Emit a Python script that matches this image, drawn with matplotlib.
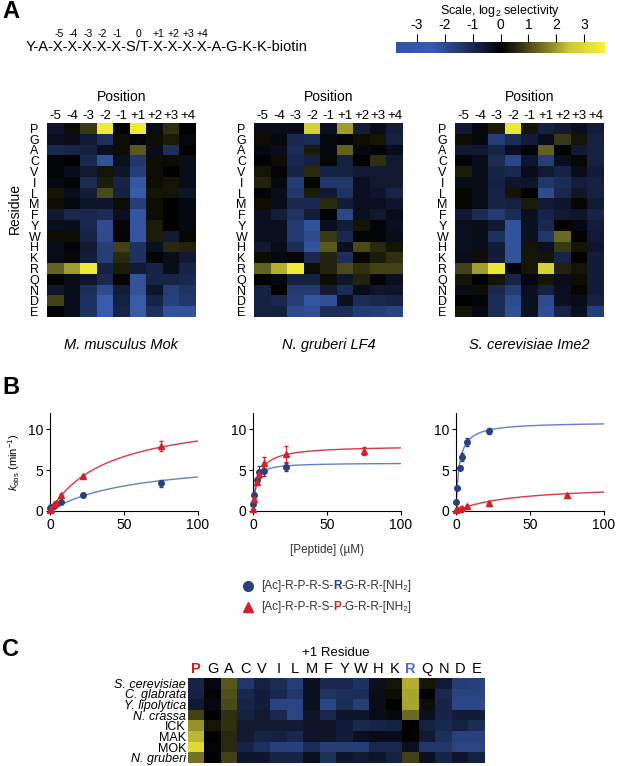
import numpy as np
import matplotlib
matplotlib.use("Agg")
import matplotlib.pyplot as plt
from matplotlib.colors import LinearSegmentedColormap
from matplotlib.cm import ScalarMappable
from matplotlib.colors import Normalize
from matplotlib.lines import Line2D

plt.rcParams['font.family'] = ['Liberation Sans', 'DejaVu Sans']
plt.rcParams['mathtext.fontset'] = 'custom'
plt.rcParams['mathtext.rm'] = 'Liberation Sans'
plt.rcParams['mathtext.it'] = 'Liberation Sans:italic'

# ---------------- data ----------------
residues = ["P", "G", "A", "C", "V", "I", "L", "M", "F", "Y", "W", "H", "K", "R", "Q", "N", "D", "E"]
positions = ["-5", "-4", "-3", "-2", "-1", "+1", "+2", "+3", "+4"]

mok = [
    [-0.5, 0.2, 0.8, 3.5, 0.0, 3.5, -0.3, 0.7, 0.0],
    [-0.4, -0.3, -0.6, -1.2, 0.2, -0.1, 0.2, 0.4, -0.2],
    [-1.0, -0.9, -0.8, -0.4, 0.2, 1.2, -0.3, -1.2, 0.0],
    [-0.1, 0.0, -1.0, -2.2, -0.4, -1.4, 0.2, 0.2, -0.3],
    [-0.1, -0.3, -0.6, 0.3, -0.5, -1.6, 0.2, 0.0, -0.3],
    [-0.2, -0.1, -1.1, 0.4, -0.9, -2.4, 0.2, 0.3, -0.3],
    [0.3, -0.3, -0.7, 1.0, -0.8, -2.5, 0.3, 0.3, -0.5],
    [0.2, -0.2, -0.5, -0.5, 0.2, -1.6, 0.2, 0.0, -0.2],
    [-0.6, -1.0, -1.0, -1.1, -0.4, -2.3, 0.2, 0.0, -0.2],
    [-0.4, -0.3, -1.0, -2.0, 0.1, -2.3, 0.4, 0.0, -0.2],
    [0.2, 0.2, -0.9, -2.0, -0.1, -2.3, 0.4, -0.6, 0.1],
    [-0.3, -0.1, -0.6, -1.6, 0.9, -1.3, -0.4, 0.6, 0.5],
    [-0.3, 0.1, -0.7, -1.6, 0.6, -1.3, -0.1, -0.3, -0.6],
    [1.3, 2.0, 3.5, -0.8, 0.4, -0.6, -0.9, -0.3, -0.9],
    [-0.1, -0.3, -0.5, -1.0, 0.1, -2.2, -0.9, -0.9, -1.0],
    [-0.5, -0.3, -1.2, -2.0, -0.7, -2.2, -0.5, -1.6, -1.3],
    [0.9, -0.3, -1.3, -2.5, -0.8, -2.6, -0.9, -1.7, -1.4],
    [0.0, -0.3, -1.3, -2.6, -0.9, -2.6, -1.2, -2.2, -2.2],
]

lf4 = [
    [-0.3, -0.3, -0.3, 2.8, -0.4, 2.0, -0.7, -0.3, -0.7],
    [0.2, -0.2, -1.0, -1.1, -0.2, -0.1, 0.2, 0.3, -0.8],
    [-0.2, -0.3, -1.1, 0.4, -0.2, 1.3, -0.2, -0.1, -0.3],
    [0.0, 0.2, -1.0, -0.8, 0.1, -0.8, 0.0, 0.7, -0.6],
    [0.3, -0.1, -0.9, 0.6, -0.8, -0.8, -0.6, -0.6, -0.6],
    [0.5, -0.2, -1.5, 0.1, -1.4, -1.4, -0.4, -0.6, -0.6],
    [-0.1, -0.3, -1.4, 0.4, -0.6, -1.3, -0.4, -0.5, -0.9],
    [0.2, -0.3, -1.0, -1.0, 0.6, -0.7, -0.4, -0.4, -0.5],
    [-0.4, -0.7, -1.3, -0.7, -0.1, -1.9, -0.4, -0.6, -0.3],
    [-0.4, -0.4, -1.5, -2.2, -0.4, -0.7, 0.3, -0.1, -0.4],
    [-0.4, -0.4, -1.5, -2.0, 0.8, -1.0, -0.1, -0.1, -0.3],
    [-0.6, -0.3, -1.1, -2.2, 1.2, -0.4, 1.0, 0.6, 0.3],
    [0.2, -0.2, 0.1, -1.0, 0.5, -1.2, 0.1, 0.4, 0.7],
    [1.3, 2.2, 3.5, 0.2, 0.5, 1.0, 0.7, 0.9, 0.9],
    [0.0, -0.2, -0.8, -0.8, 0.2, -0.5, 0.5, -0.1, -0.4],
    [-0.8, 0.0, -1.5, -1.5, -0.6, -1.1, -0.3, -0.5, -0.5],
    [-0.8, -1.0, -1.6, -2.3, -2.1, -0.4, -1.1, -1.0, -0.9],
    [-0.8, -0.8, -2.0, -2.1, -1.1, -1.1, -1.5, -1.6, -1.8],
]

ime2 = [
    [-0.6, -0.2, 0.4, 3.4, 0.3, -0.8, -0.6, -0.4, -0.7],
    [0.2, -0.2, -1.6, -1.1, -0.7, -0.3, 0.8, 0.3, -0.8],
    [-0.6, -0.6, -0.9, -0.4, -0.1, 1.3, 0.0, -0.6, -0.8],
    [-0.1, -0.3, -1.1, -1.9, -0.5, -1.6, -0.3, 0.1, -0.8],
    [0.4, -0.3, -0.9, -1.0, -0.3, -0.6, -0.9, -0.3, -0.7],
    [-0.3, -0.3, -0.8, -0.5, -0.5, -1.4, -1.1, -0.7, -0.8],
    [0.1, -0.3, -0.9, 0.3, 0.0, -2.0, -1.0, -0.5, -0.8],
    [0.1, -0.3, -0.9, -0.8, 0.4, -0.6, -0.5, 0.1, -0.6],
    [-0.6, -1.1, -1.5, -1.1, -0.4, -0.9, -0.6, -0.5, -0.9],
    [-0.4, -0.3, -0.6, -2.2, -0.4, -1.0, 0.0, -0.2, -0.7],
    [-0.4, -0.3, -1.3, -2.2, -0.4, -1.4, 1.4, 0.0, -0.6],
    [-0.4, -0.3, -0.7, -2.2, 0.3, -0.4, 0.8, 0.3, -0.5],
    [-0.3, 0.2, -0.7, -2.2, 0.3, 0.3, -0.9, 0.0, -0.7],
    [0.9, 2.0, 3.4, -0.1, 0.3, 2.8, 0.5, 0.3, -0.7],
    [0.3, 0.0, 0.3, -0.9, -0.2, 0.3, -0.3, 0.2, -0.7],
    [-0.3, 0.2, -1.0, -1.6, -0.4, -0.8, -0.4, 0.1, -0.7],
    [0.0, -0.1, -1.1, -2.0, -0.4, -2.0, -0.4, -0.3, -0.8],
    [0.3, -0.2, -1.1, -2.1, -0.4, -2.1, -0.9, -0.4, -1.6],
]

heat_titles = ["M. musculus Mok", "N. gruberi LF4", "S. cerevisiae Ime2"]

# Panel B
conc = [0.25, 0.75, 2.5, 3.75, 7.5, 22.5, 75]
mok_R = [0.4, 0.5, 0.6, 0.8, 1.1, 1.9, 3.4]
mok_P = [0.1, 0.3, 0.8, 1.0, 2.0, 4.3, 8.0]
mok_R_err = [0, 0, 0, 0, 0.1, 0.2, 0.4]
mok_P_err = [0, 0, 0, 0, 0.1, 0.1, 0.6]
lf4_R = [0.8, 2.0, 3.8, 4.8, 4.9, 5.4, np.nan]
lf4_P = [0.2, 1.5, 3.5, 4.5, 5.9, 7.0, 7.3]
lf4_R_err = [0, 0.2, 0.3, 0.7, 0.6, 0.5, 0]
lf4_P_err = [0, 0.2, 0.3, 0.4, 0.7, 1.0, 0.5]
ime2_R = [1.1, 2.8, 5.3, 6.6, 8.4, 9.8, np.nan]
ime2_P = [0.1, 0.2, 0.3, 0.35, 0.6, 1.0, 1.9]
ime2_R_err = [0, 0.1, 0.2, 0.5, 0.5, 0.4, 0]
ime2_P_err = [0, 0, 0, 0, 0.1, 0.1, 0.1]
# Michaelis-Menten fit parameters (Vmax, Km)
fit_R = [(6.5, 56.0), (5.9, 1.5), (10.9, 2.2)]
fit_P = [(12.0, 40.0), (8.0, 3.5), (3.2, 38.0)]

# Panel C
c_species = ["S. cerevisiae", "C. glabrata", "Y. lipolytica", "N. crassa", "ICK", "MAK", "MOK", "N. gruberi"]
c_italic = [True, True, True, True, False, False, False, True]
c_vals = [
    [-0.9, -0.2, 1.2, -1.4, -0.8, -1.1, -1.6, -0.4, -1.0, -1.0, -1.3, -0.4, 0.3, 2.2, 0.3, -0.6, -1.6, -1.7],
    [-0.8, -0.1, 1.1, -1.0, -0.7, -1.0, -1.4, -0.4, -1.3, -1.2, -1.1, -0.3, 0.2, 2.1, 0.0, -1.0, -1.8, -1.8],
    [-0.6, -0.2, 1.0, -0.9, -0.7, -1.8, -1.8, -0.4, -1.9, -1.1, -1.6, -0.3, 0.0, 2.1, 0.2, -0.9, -1.9, -1.9],
    [0.9, 0.0, 0.7, -0.8, -0.6, -1.0, -1.8, -0.5, -1.0, -0.5, -0.5, -0.3, -0.2, 1.4, -0.4, -0.9, -0.7, -0.7],
    [1.9, 0.3, 0.7, -0.6, -0.6, -0.6, -0.6, -0.5, -0.5, -0.7, -1.0, -0.9, -0.8, 0.0, -0.8, -1.0, -0.8, -1.1],
    [2.3, 0.0, 0.6, -0.6, -0.9, -0.8, -1.0, -0.5, -0.5, -0.7, -0.4, -0.3, -0.3, 0.0, -0.6, -1.2, -1.7, -1.7],
    [3.0, -0.1, 0.6, -0.9, -1.2, -1.7, -1.7, -1.1, -1.6, -1.6, -1.6, -1.0, -1.0, -0.4, -1.4, -1.4, -1.8, -1.8],
    [1.5, 0.0, 0.9, -0.5, -0.5, -0.9, -0.9, -0.4, -1.2, -0.5, -0.6, -0.5, -0.8, 0.9, -0.4, -0.9, -0.5, -0.8],
]

# ---------------- style ----------------
W, H = 617, 766
VMIN, VMAX = -3.75, 3.75
nodes = [(-3.75, (0.20, 0.33, 0.62)), (-2.5, (0.22, 0.36, 0.67)), (-1.5, (0.14, 0.23, 0.44)),
         (-0.6, (0.07, 0.10, 0.20)), (0.0, (0.0, 0.0, 0.0)), (0.6, (0.16, 0.16, 0.06)),
         (1.5, (0.45, 0.44, 0.14)), (2.5, (0.80, 0.78, 0.20)), (3.75, (0.97, 0.95, 0.22))]
cmap = LinearSegmentedColormap.from_list(
    "sel", [((v - VMIN) / (VMAX - VMIN), c) for v, c in nodes])
norm = Normalize(VMIN, VMAX)

BLUE_M = (0.16, 0.25, 0.50)
BLUE_L = (0.40, 0.50, 0.78)
RED_M = (0.85, 0.12, 0.15)
RED_L = (0.85, 0.22, 0.27)


def fx(x):
    return x / W


def fy(y):
    return 1 - y / H


def add_ax(x0, y0, x1, y1):
    return fig.add_axes([fx(x0), fy(y1), (x1 - x0) / W, (y1 - y0) / H])


fig = plt.figure(figsize=(W / 100, H / 100), dpi=100)
renderer = fig.canvas.get_renderer()


def seg_text(x, y, segs, fs, **kw):
    for s, col, wt in segs:
        t = fig.text(fx(x), fy(y), s, color=col, fontweight=wt, fontsize=fs,
                     ha='left', va='center', **kw)
        x += t.get_window_extent(renderer).width
    return x


# ---------------- Panel A ----------------
fig.text(fx(2), fy(11), "A", fontsize=17, fontweight='bold', va='center', ha='left')

pep = "Y-A-X-X-X-X-X-S/T-X-X-X-X-A-G-K-K-biotin"
pep_x, pep_y, pep_fs = 26, 47, 10.5
fig.text(fx(pep_x), fy(pep_y), pep, fontsize=pep_fs, ha='left', va='center')


def substr_w(s):
    t = fig.text(0, 0, s, fontsize=pep_fs)
    w = t.get_window_extent(renderer).width
    t.remove()
    return w


pos_labels = ["-5", "-4", "-3", "-2", "-1", "0", "+1", "+2", "+3", "+4"]
pos_idx = [4, 6, 8, 10, 12, 15, 18, 20, 22, 24]
for lab, i in zip(pos_labels, pos_idx):
    if lab == "0":
        c = pep_x + (substr_w(pep[:14]) + substr_w(pep[:17])) / 2
    else:
        c = pep_x + (substr_w(pep[:i]) + substr_w(pep[:i + 1])) / 2
    fig.text(fx(c), fy(34), lab, fontsize=7.5, ha='center', va='center')

# colorbar
cax = add_ax(396, 42, 605, 53)
cb = fig.colorbar(ScalarMappable(norm=norm, cmap=cmap), cax=cax, orientation='horizontal')
cb.outline.set_visible(False)
cax.xaxis.set_ticks_position('top')
cax.set_xticks([-3, -2, -1, 0, 1, 2, 3])
cax.set_xticklabels(["-3", "-2", "-1", "0", "1", "2", "3"])
cax.tick_params(axis='x', length=6, width=0.8, labelsize=10, pad=1)
fig.text(fx(500), fy(11), "Scale, log$_2$ selectivity", fontsize=9, ha='center', va='center')

heat_lefts = [47, 254, 455]
for k, (data, title, xl) in enumerate(zip([mok, lf4, ime2], heat_titles, heat_lefts)):
    ax = add_ax(xl, 123, xl + 149, 317)
    ax.imshow(np.array(data), cmap=cmap, norm=norm, aspect='auto', interpolation='nearest')
    ax.set_xticks(range(len(positions)))
    ax.set_xticklabels(positions, fontsize=9.5)
    ax.xaxis.set_ticks_position('top')
    ax.set_yticks(range(len(residues)))
    ax.set_yticklabels(residues, fontsize=9, ha='center')
    ax.tick_params(length=0, pad=1)
    ax.tick_params(axis='y', pad=9)
    for s in ax.spines.values():
        s.set_visible(False)
    fig.text(fx(xl + 74.5), fy(97), "Position", fontsize=10, ha='center', va='center')
    fig.text(fx(xl + 74.5), fy(345), title, fontsize=10.5, style='italic', ha='center', va='center')
fig.text(fx(15), fy(208), "Residue", fontsize=10, rotation=90, ha='center', va='center')

# ---------------- Panel B ----------------
fig.text(fx(2), fy(388), "B", fontsize=17, fontweight='bold', va='center', ha='left')
b_lefts = [50, 253, 456]
xs_fit = np.linspace(0, 100, 300)
series = [(mok_R, mok_R_err, mok_P, mok_P_err), (lf4_R, lf4_R_err, lf4_P, lf4_P_err),
          (ime2_R, ime2_R_err, ime2_P, ime2_P_err)]
for k, (xl, (r, re, p, pe)) in enumerate(zip(b_lefts, series)):
    ax = add_ax(xl, 413, xl + 148, 511)
    vr, kr = fit_R[k]
    vp, kp = fit_P[k]
    ax.plot(xs_fit, vr * xs_fit / (kr + xs_fit), color=BLUE_L, lw=1.0)
    ax.plot(xs_fit, vp * xs_fit / (kp + xs_fit), color=RED_L, lw=1.0)
    ax.errorbar(conc, r, yerr=re, fmt='o', ms=4, color=BLUE_M, ecolor=BLUE_M,
                elinewidth=0.7, capsize=1.2, clip_on=False, zorder=3)
    ax.errorbar(conc, p, yerr=pe, fmt='^', ms=4, color=RED_M, ecolor=RED_M,
                elinewidth=0.7, capsize=1.2, clip_on=False, zorder=3)
    ax.set_xlim(0, 100)
    ax.set_ylim(0, 12)
    ax.set_xticks([0, 50, 100])
    ax.set_yticks([0, 5, 10])
    ax.spines['top'].set_visible(False)
    ax.spines['right'].set_visible(False)
    for s in ['left', 'bottom']:
        ax.spines[s].set_linewidth(0.8)
    ax.tick_params(length=3, width=0.8, labelsize=10, pad=2)
    if k == 0:
        ax.set_ylabel("$k_{\\mathrm{obs}}$ (min$^{-1}$)", fontsize=8, labelpad=4)
fig.text(fx(327), fy(550), "[Peptide] (\u00b5M)", fontsize=8.5, ha='center', va='center',
         color=(0.2, 0.2, 0.2))

# legend
fig.add_artist(Line2D([fx(248)], [fy(586)], marker='o', ms=7, color=BLUE_M,
                      transform=fig.transFigure, linestyle='none'))
fig.add_artist(Line2D([fx(248)], [fy(607)], marker='^', ms=7, color=RED_M,
                      transform=fig.transFigure, linestyle='none'))
dark = (0.2, 0.2, 0.2)
seg_text(261, 586, [("[Ac]-R-P-R-S-", dark, 'normal'), ("R", BLUE_M, 'bold'),
                    ("-G-R-R-[NH\u2082]", dark, 'normal')], 8.5)
seg_text(261, 607, [("[Ac]-R-P-R-S-", dark, 'normal'), ("P", RED_M, 'bold'),
                    ("-G-R-R-[NH\u2082]", dark, 'normal')], 8.5)

# ---------------- Panel C ----------------
fig.text(fx(2), fy(650), "C", fontsize=17, fontweight='bold', va='center', ha='left')
axc = add_ax(188, 678, 485, 763)
axc.imshow(np.array(c_vals), cmap=cmap, norm=norm, aspect='auto', interpolation='nearest')
axc.set_xticks(range(len(residues)))
axc.set_xticklabels(residues, fontsize=10.5)
axc.xaxis.set_ticks_position('top')
for lab, res in zip(axc.get_xticklabels(), residues):
    if res == "P":
        lab.set_color((0.80, 0.10, 0.12))
        lab.set_fontweight('bold')
    elif res == "R":
        lab.set_color((0.30, 0.45, 0.75))
        lab.set_fontweight('bold')
axc.set_yticks(range(len(c_species)))
axc.set_yticklabels(c_species, fontsize=9)
for lab, it in zip(axc.get_yticklabels(), c_italic):
    if it:
        lab.set_fontstyle('italic')
axc.tick_params(length=0, pad=1.5)
for s in axc.spines.values():
    s.set_visible(False)
fig.text(fx(336), fy(653), "+1 Residue", fontsize=9.5, ha='center', va='center')

fig.savefig("out.png", dpi=100)
